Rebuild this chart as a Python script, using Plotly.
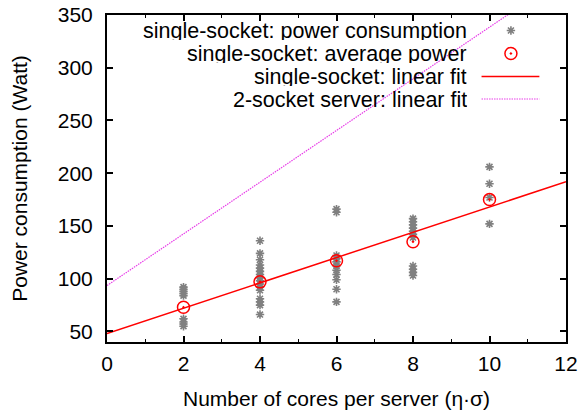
import plotly.graph_objects as go

# Measured power per server, grouped by core count
cores_2 = [92, 90, 88, 86, 84, 62, 59, 57, 55]
cores_4 = [136, 124, 118, 113, 110, 107, 104, 101, 98, 95, 92, 89, 81, 78, 75, 66]
cores_6 = [166, 163, 122, 119, 116, 112, 108, 104, 99, 90, 78]
cores_8 = [157, 154, 151, 148, 145, 142, 139, 112, 109, 106, 103]
cores_10 = [206, 190, 177, 152]

avg_cores = [2, 4, 6, 8, 10]
avg_power = [73, 97, 117, 135, 175]

# Linear fits (intercept, slope)
single_fit = (48.0, 12.0)
dual_fit = (93.5, 24.5)
fit_x = [0, 12]

x_ticks = [0, 2, 4, 6, 8, 10, 12]
y_ticks = [50, 100, 150, 200, 250, 300, 350]

legend_labels = [
    "single-socket: power consumption",
    "single-socket: average power",
    "single-socket: linear fit",
    "2-socket server: linear fit",
]

FONT = "Liberation Sans, Arial, Helvetica, sans-serif"
GRAY = "#808080"
RED = "#ff0000"
MAGENTA = "#e83ce8"
DOTS = "1.5px,1px"

raw_x, raw_y = [], []
for c, vals in [(2, cores_2), (4, cores_4), (6, cores_6), (8, cores_8), (10, cores_10)]:
    raw_x += [c] * len(vals)
    raw_y += vals

fig = go.Figure()

fig.add_trace(go.Scatter(
    x=fit_x, y=[dual_fit[0] + dual_fit[1] * v for v in fit_x],
    mode="lines", line=dict(color=MAGENTA, width=1.2, dash=DOTS),
    showlegend=False, hoverinfo="skip"))
fig.add_trace(go.Scatter(
    x=raw_x, y=raw_y, mode="markers",
    marker=dict(symbol="asterisk", size=7, color=GRAY,
                line=dict(color=GRAY, width=1.6)),
    showlegend=False))
fig.add_trace(go.Scatter(
    x=fit_x, y=[single_fit[0] + single_fit[1] * v for v in fit_x],
    mode="lines", line=dict(color=RED, width=1.5),
    showlegend=False, hoverinfo="skip"))
fig.add_trace(go.Scatter(
    x=avg_cores, y=avg_power, mode="markers",
    marker=dict(symbol="circle-open-dot", size=12, color=RED,
                line=dict(color=RED, width=1.5)),
    showlegend=False))

# Key in the upper right: text right-aligned, sample to its right
row_y = [0.9526, 0.8823, 0.8119, 0.7431]
text_x = 0.787
sample_x = 0.880
line_x = [0.816, 0.942]

for lab, yy in zip(legend_labels, row_y):
    fig.add_annotation(x=text_x, y=yy, xref="paper", yref="paper",
                       text=lab, showarrow=False, xanchor="right",
                       yanchor="middle", height=19, borderpad=0,
                       font=dict(size=21.5, color="black", family=FONT))

fig.add_trace(go.Scatter(
    x=[sample_x], y=[row_y[0]], xaxis="x2", yaxis="y2", mode="markers",
    marker=dict(symbol="asterisk", size=7, color=GRAY, line=dict(color=GRAY, width=1.6)),
    showlegend=False, hoverinfo="skip"))
fig.add_trace(go.Scatter(
    x=[sample_x], y=[row_y[1]], xaxis="x2", yaxis="y2", mode="markers",
    marker=dict(symbol="circle-open-dot", size=12, color=RED, line=dict(color=RED, width=1.5)),
    showlegend=False, hoverinfo="skip"))
fig.add_trace(go.Scatter(
    x=line_x, y=[row_y[2]] * 2, xaxis="x2", yaxis="y2", mode="lines",
    line=dict(color=RED, width=1.5), showlegend=False, hoverinfo="skip"))
fig.add_trace(go.Scatter(
    x=line_x, y=[row_y[3]] * 2, xaxis="x2", yaxis="y2", mode="lines",
    line=dict(color=MAGENTA, width=1.2, dash=DOTS), showlegend=False, hoverinfo="skip"))

axis_common = dict(
    showgrid=False, zeroline=False, showline=True, linecolor="black", linewidth=2,
    mirror="allticks", ticks="inside", tickcolor="black", tickwidth=1.5,
    tickfont=dict(size=21, color="black", family=FONT), automargin=False,
)

fig.update_layout(
    width=584, height=410,
    margin=dict(l=107, r=18, t=15, b=68),
    paper_bgcolor="white", plot_bgcolor="white",
    font=dict(family=FONT, size=21, color="black"),
    showlegend=False,
    xaxis=dict(
        range=[0, 12], tickvals=x_ticks, ticklen=6,
        minor=dict(dtick=1, ticks="inside", ticklen=3, tickcolor="black", tickwidth=1),
        ticklabelstandoff=2,
        title=dict(text="Number of cores per server (η·σ)", standoff=22,
                   font=dict(size=21, color="black", family=FONT)),
        **axis_common),
    yaxis=dict(
        range=[40, 350], tickvals=y_ticks, ticklen=6,
        ticklabelstandoff=8,
        title=dict(text="Power consumption (Watt)", standoff=24,
                   font=dict(size=21, color="black", family=FONT)),
        **axis_common),
    xaxis2=dict(range=[0, 1], overlaying="x", visible=False, fixedrange=True),
    yaxis2=dict(range=[0, 1], overlaying="y", visible=False, fixedrange=True),
)

fig.write_html("out.html")
